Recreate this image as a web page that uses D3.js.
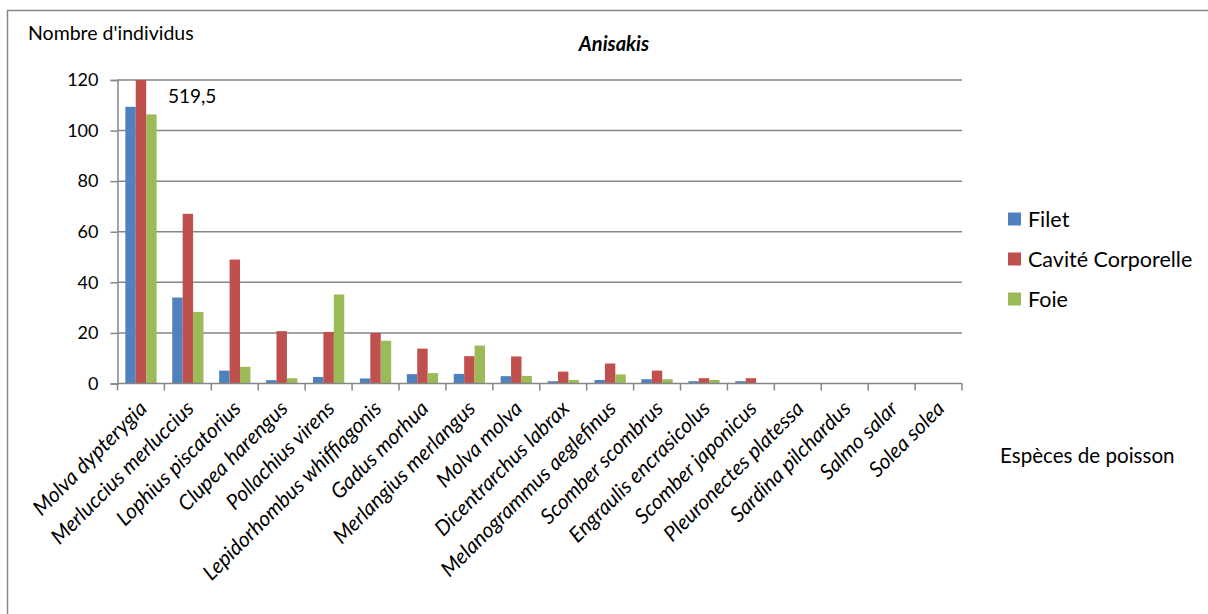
<!DOCTYPE html>
<html>
<head>
<meta charset="utf-8">
<script src="https://cdn.jsdelivr.net/npm/d3@7"></script>
<style>
  body { margin: 0; background: #fff; }
  text { font-family: Lato, "Open Sans", sans-serif; fill: #000; }
</style>
</head>
<body>
<svg id="chart" width="1208" height="614"></svg>
<script>
// species on the x axis
var species = ["Molva dypterygia", "Merluccius merluccius", "Lophius piscatorius",
  "Clupea harengus", "Pollachius virens", "Lepidorhombus whiffiagonis", "Gadus morhua",
  "Merlangius merlangus", "Molva molva", "Dicentrarchus labrax", "Melanogrammus aeglefinus",
  "Scomber scombrus", "Engraulis encrasicolus", "Scomber japonicus", "Pleuronectes platessa",
  "Sardina pilchardus", "Salmo salar", "Solea solea"];

var seriesNames = ["Filet", "Cavité Corporelle", "Foie"];
var filet  = [109.4, 34, 5.1, 1.3, 2.6, 2, 3.7, 3.8, 2.9, 0.9, 1.4, 1.7, 0.9, 0.9, 0, 0, 0, 0];
var cavite = [519.5, 67.1, 49, 20.7, 20.4, 20, 13.8, 10.8, 10.7, 4.7, 7.9, 5.1, 2.1, 2.1, 0, 0, 0, 0];
var foie   = [106.4, 28.3, 6.6, 2.1, 35.2, 16.9, 4.1, 15, 3, 1.4, 3.6, 1.7, 1.4, 0, 0, 0, 0, 0];
var yTicks = [0, 20, 40, 60, 80, 100, 120];
var colors = ["#4F81BD", "#C0504D", "#9BBB59"];

var svg = d3.select("#chart");

// chart frame (runs off the right and bottom edge)
svg.append("rect")
  .attr("x", 7.5).attr("y", 10.5)
  .attr("width", 1240).attr("height", 640)
  .attr("fill", "none").attr("stroke", "#868686").attr("stroke-width", 1.5);

var plotL = 117.5, plotR = 962, plotT = 80, plotB = 383.5;

// gap width 150% -> group takes 2/3 of each category slot
var x = d3.scaleBand().domain(species).range([plotL, plotR]).paddingInner(1 / 3).paddingOuter(1 / 6);
var x0 = d3.scaleBand().domain(species).range([plotL, plotR]);
var xs = d3.scaleBand().domain(seriesNames).range([0, x.bandwidth()]);
var y = d3.scaleLinear().domain([0, 120]).range([plotB, plotT]).clamp(true);

// gridlines
svg.append("g").selectAll("line").data(yTicks.slice(1)).enter().append("line")
  .attr("x1", plotL).attr("x2", plotR)
  .attr("y1", d => y(d)).attr("y2", d => y(d))
  .attr("stroke", "#868686").attr("stroke-width", 1.5);

// bars
var all = [filet, cavite, foie];
seriesNames.forEach(function(name, i) {
  svg.append("g").selectAll("rect").data(all[i]).enter().append("rect")
    .attr("x", (d, j) => x(species[j]) + xs(name))
    .attr("y", d => y(d))
    .attr("width", xs.bandwidth())
    .attr("height", d => plotB - y(d))
    .attr("fill", colors[i]);
});

// y axis
var yAxis = svg.append("g")
  .attr("transform", "translate(" + plotL + ",0)")
  .call(d3.axisLeft(y).tickValues(yTicks).tickSize(7).tickPadding(12).tickFormat(d3.format("d")));
yAxis.select(".domain").attr("stroke", "#868686").attr("stroke-width", 1.5);
yAxis.selectAll(".tick line").attr("stroke", "#868686").attr("stroke-width", 1.5);
yAxis.selectAll("text").style("font-size", "18px").style("font-family", "Lato, sans-serif");

// x axis: ticks between categories
var xAxis = svg.append("g").attr("transform", "translate(0," + plotB + ")");
xAxis.append("line").attr("x1", plotL).attr("x2", plotR)
  .attr("stroke", "#868686").attr("stroke-width", 1.5);
xAxis.selectAll(".tk").data(species.concat(["end"])).enter().append("line")
  .attr("x1", (d, j) => plotL + j * x0.bandwidth())
  .attr("x2", (d, j) => plotL + j * x0.bandwidth())
  .attr("y1", 0).attr("y2", 7)
  .attr("stroke", "#868686").attr("stroke-width", 1.5);
xAxis.selectAll(".lbl").data(species).enter().append("text")
  .attr("transform", d => "translate(" + (x0(d) + x0.bandwidth() / 2 - 3) + ",16) rotate(-45)")
  .attr("text-anchor", "end")
  .attr("dy", "0.7em")
  .style("font-size", "21px").style("font-style", "italic")
  .text(d => d);

// texts
svg.append("text").attr("x", 28).attr("y", 40).style("font-size", "19.5px").text("Nombre d'individus");
svg.append("text").attr("x", 614).attr("y", 51).attr("text-anchor", "middle")
  .style("font-size", "20px").style("font-weight", "bold").style("font-style", "italic").text("Anisakis");
svg.append("text").attr("x", 168).attr("y", 103).style("font-size", "19px").text("519,5");
svg.append("text").attr("x", 1000).attr("y", 463).style("font-size", "20.6px").text("Espèces de poisson");

// legend
var lg = svg.append("g").selectAll("g").data(seriesNames).enter().append("g")
  .attr("transform", (d, i) => "translate(1008," + (219 + i * 40) + ")");
lg.append("rect").attr("x", 0).attr("y", -6.5).attr("width", 13).attr("height", 13)
  .attr("fill", (d, i) => colors[i]);
lg.append("text").attr("x", 20).attr("y", 7.5).style("font-size", "21.5px").text(d => d);
</script>
</body>
</html>
